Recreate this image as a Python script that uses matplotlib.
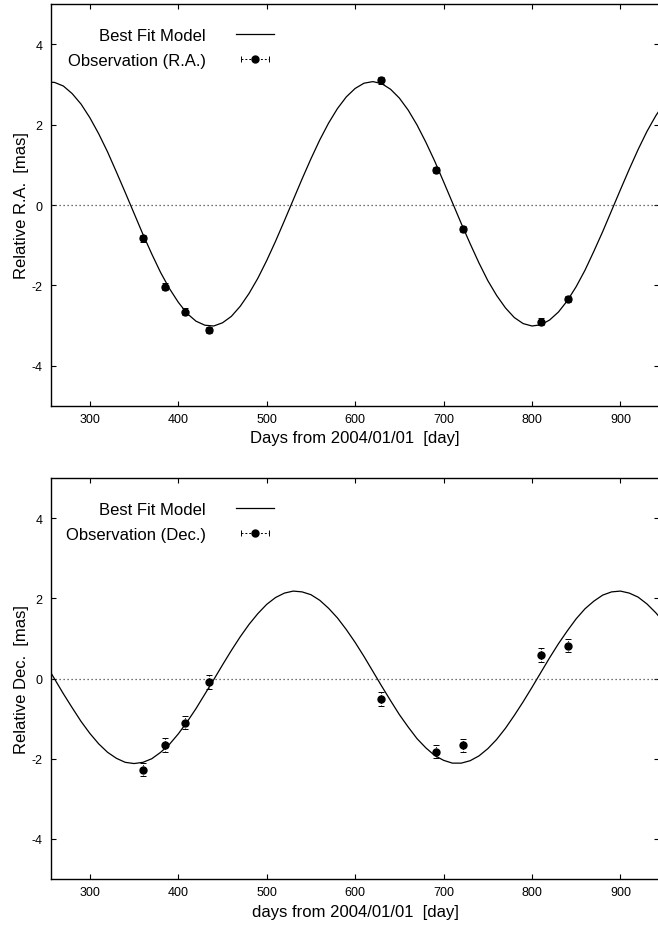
import numpy as np
import matplotlib.pyplot as plt
from matplotlib.lines import Line2D
from matplotlib.legend_handler import HandlerLine2D, HandlerTuple

plt.rcParams['font.family'] = ['Liberation Sans', 'DejaVu Sans']
plt.rcParams['axes.unicode_minus'] = False

# Observation epochs (days from 2004/01/01)
obs_days = [360, 385, 408, 435, 629, 691, 722, 810, 841]

# Relative R.A. and Dec. [mas] with errors
ra_obs = [-0.83, -2.03, -2.65, -3.11, 3.10, 0.87, -0.60, -2.90, -2.34]
ra_err = [0.08, 0.08, 0.08, 0.08, 0.08, 0.08, 0.08, 0.08, 0.08]
dec_obs = [-2.27, -1.66, -1.10, -0.09, -0.51, -1.82, -1.67, 0.58, 0.82]
dec_err = [0.17, 0.17, 0.17, 0.17, 0.17, 0.17, 0.17, 0.17, 0.17]

model_days = list(range(250, 951, 10))
ra_model = [3.06, 3.05, 2.96, 2.77, 2.51, 2.17, 1.77, 1.32, 0.82, 0.31,
            -0.21, -0.73, -1.22, -1.68, -2.08, -2.42, -2.70, -2.89, -2.99, -3.01,
            -2.93, -2.77, -2.52, -2.20, -1.82, -1.38, -0.90, -0.39, 0.13, 0.65,
            1.15, 1.62, 2.04, 2.40, 2.69, 2.90, 3.03, 3.07, 3.02, 2.88,
            2.66, 2.36, 1.99, 1.56, 1.09, 0.58, 0.06, -0.46, -0.96, -1.44,
            -1.88, -2.25, -2.56, -2.80, -2.95, -3.01, -2.98, -2.86, -2.66, -2.38,
            -2.03, -1.62, -1.15, -0.66, -0.14, 0.38, 0.89, 1.38, 1.83, 2.22,
            2.55]
dec_model = [0.36, -0.01, -0.38, -0.73, -1.07, -1.37, -1.63, -1.84, -1.99, -2.09,
             -2.12, -2.09, -2.00, -1.84, -1.64, -1.38, -1.08, -0.75, -0.39, -0.03,
             0.34, 0.70, 1.04, 1.35, 1.62, 1.85, 2.02, 2.13, 2.18, 2.16,
             2.09, 1.95, 1.75, 1.51, 1.22, 0.90, 0.55, 0.18, -0.19, -0.55,
             -0.90, -1.21, -1.50, -1.73, -1.92, -2.04, -2.11, -2.11, -2.05, -1.93,
             -1.75, -1.52, -1.24, -0.92, -0.58, -0.22, 0.15, 0.52, 0.87, 1.19,
             1.49, 1.74, 1.93, 2.08, 2.16, 2.18, 2.13, 2.03, 1.86, 1.64,
             1.38]

x_ticks = [300, 400, 500, 600, 700, 800, 900]
y_ticks = [-4, -2, 0, 2, 4]

fig = plt.figure(figsize=(6.58, 9.29), dpi=100)
ax_top = fig.add_axes([0.0775, 0.5619, 0.9245, 0.4327])
ax_bot = fig.add_axes([0.0775, 0.0527, 0.9245, 0.4317])

panels = [
    (ax_top, ra_model, ra_obs, ra_err, "Observation (R.A.)",
     "Relative R.A.  [mas]", "Days from 2004/01/01  [day]"),
    (ax_bot, dec_model, dec_obs, dec_err, "Observation (Dec.)",
     "Relative Dec.  [mas]", "days from 2004/01/01  [day]"),
]

for ax, model, obs, err, obs_label, ylab, xlab in panels:
    ax.axhline(0, color="#444444", linestyle=(0, (1, 2.2)), linewidth=0.9)
    ax.plot(model_days, model, color="black", linewidth=0.9)
    eb = ax.errorbar(obs_days, obs, yerr=err, fmt="o", color="black",
                     ms=5, capsize=2, elinewidth=0.7, capthick=0.7)
    eb[2][0].set_linestyle(":")

    ax.set_xlim(256, 944)
    ax.set_ylim(-5, 5)
    ax.set_xticks(x_ticks)
    ax.set_yticks(y_ticks)
    ax.tick_params(direction="in", length=3.6, width=0.8, top=True, right=True,
                   labelsize=9)
    ax.tick_params(axis="x", pad=5)
    ax.tick_params(axis="y", pad=6)
    for s in ax.spines.values():
        s.set_linewidth(1.0)
    ax.set_ylabel(ylab, fontsize=12, labelpad=2)
    ax.set_xlabel(xlab, fontsize=12, labelpad=4)

    # legend in gnuplot style: text first, sample to the right
    model_h = Line2D([], [], color="black", linewidth=0.9)
    bar_h = Line2D([], [], color="black", linestyle=(0, (2, 2)), linewidth=0.7,
                   marker="|", markersize=5, markeredgewidth=0.7)
    dot_h = Line2D([], [], color="black", linestyle="none", marker="o", ms=5)
    leg = ax.legend([model_h, (bar_h, dot_h)], ["Best Fit Model", obs_label],
                    loc="upper right", bbox_to_anchor=(0.381, 0.962),
                    frameon=False, markerfirst=False, fontsize=12,
                    handlelength=2.3, handletextpad=1.8, borderpad=0,
                    labelspacing=0.6,
                    handler_map={bar_h: HandlerLine2D(numpoints=2),
                                 dot_h: HandlerLine2D(numpoints=1),
                                 tuple: HandlerTuple(ndivide=1, pad=0)})

fig.savefig("out.png", dpi=100)
